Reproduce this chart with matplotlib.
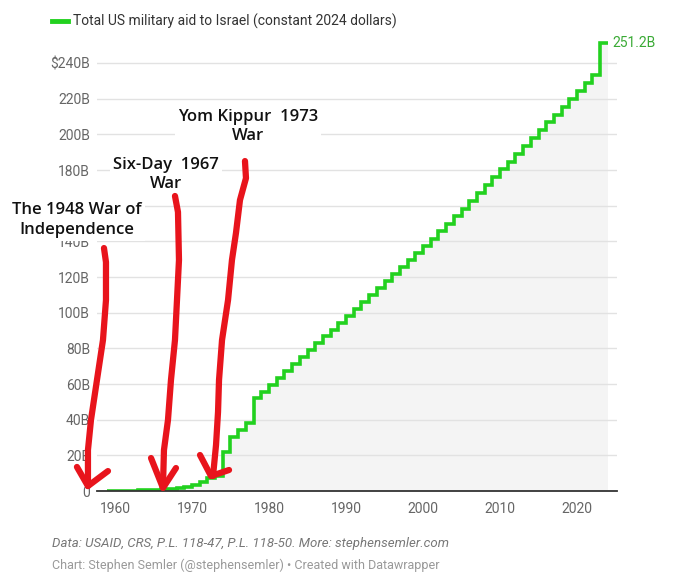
import matplotlib.pyplot as plt
from matplotlib.lines import Line2D

# cumulative aid, billions of constant 2024 dollars; value for year y covers y..y+1
years = list(range(1959, 2024))
aid_billion = [
    0.0, 0.05, 0.1, 0.2, 0.3, 0.4, 0.6, 0.9, 1.2, 1.6,       # 1959-1968
    2.1, 3.4, 5.2, 7.2, 8.5, 22.0, 30.5, 34.3, 38.0, 52.1,   # 1969-1978
    55.8, 59.6, 63.4, 67.6, 71.5, 75.4, 79.2, 83.0, 86.8, 90.6,  # 1979-1988
    94.5, 98.4, 102.3, 106.2, 110.1, 114.0, 117.9, 121.8, 125.7, 129.6,  # 1989-1998
    133.5, 137.4, 141.4, 145.6, 149.8, 154.0, 158.4, 162.8, 167.2, 171.6,  # 1999-2008
    176.0, 180.4, 184.8, 189.2, 193.6, 198.0, 202.4, 206.8, 211.2, 215.6,  # 2009-2018
    220.0, 224.5, 229.0, 233.5, 251.2,                        # 2019-2023
]

year_ticks = [1960, 1970, 1980, 1990, 2000, 2010, 2020]
value_ticks = [0, 20, 40, 60, 80, 100, 120, 140, 160, 180, 200, 220, 240]
value_tick_labels = ["0", "20B", "40B", "60B", "80B", "100B", "120B", "140B",
                     "160B", "180B", "200B", "220B", "$240B"]

legend_label = "Total US military aid to Israel (constant 2024 dollars)"
end_label = "251.2B"

war_notes = [
    ("The 1948 War of\nIndependence", 1955.06, 152.0),
    ("Six-Day  1967\nWar", 1966.62, 177.5),
    ("Yom Kippur  1973\nWar", 1977.27, 204.4),
]

# hand drawn red arrows (year, billions): shaft, then the two strokes of the head
arrows = [
    ([1958.57, 1958.83, 1958.83, 1958.44, 1957.66, 1956.88, 1956.49, 1956.49],
     [136.3, 128.4, 107.1, 84.7, 62.3, 39.8, 23.0, 2.8],
     [1955.06, 1956.49, 1959.09], [13.5, 2.8, 11.2]),
    ([1967.79, 1968.18, 1968.31, 1968.05, 1967.79, 1967.27, 1966.88, 1966.36, 1966.23],
     [165.5, 156.5, 129.6, 107.1, 84.7, 62.3, 39.8, 23.0, 2.2],
     [1964.68, 1966.23, 1967.92], [18.5, 1.7, 12.9]),
    ([1976.88, 1977.01, 1976.23, 1975.71, 1975.19, 1974.68, 1973.9, 1973.51, 1973.38, 1973.12, 1972.73],
     [185.1, 175.5, 163.2, 144.7, 129.6, 107.1, 84.7, 62.3, 44.3, 25.8, 8.4],
     [1971.04, 1972.47, 1974.81], [20.2, 8.4, 11.8]),
]

green = "#22d11f"
red = "#e8141c"

plt.rcParams["font.family"] = ["Roboto", "DejaVu Sans"]

fig = plt.figure(figsize=(6.8, 5.8), dpi=100)
ax = fig.add_axes([0.1426, 0.1534, 0.7643, 0.8053])
ax.set_xlim(1957.66, 2025.15)
ax.set_ylim(0, 262)

edges = years + [years[-1] + 1]
ax.stairs(aid_billion, edges, fill=True, baseline=0, color="#f4f4f4",
          linewidth=0, zorder=0.3)
ax.stairs(aid_billion, edges, baseline=None, edgecolor=green, linewidth=2.6,
          joinstyle="miter", zorder=2)
ax.annotate(end_label, (edges[-1], aid_billion[-1]), xytext=(3.5, 0),
            textcoords="offset points", va="center", ha="left",
            color="#3aaa35", fontsize=10, annotation_clip=False)

ax.set_axisbelow(True)
ax.yaxis.grid(True, color="#e2e2e2", linewidth=1)
ax.set_yticks(value_ticks, value_tick_labels)
ax.set_xticks(year_ticks, [str(y) for y in year_ticks])
ax.tick_params(axis="both", length=0, colors="#666666", labelsize=10)
ax.tick_params(axis="y", pad=5)
ax.tick_params(axis="x", pad=8)
for side in ["left", "right", "top"]:
    ax.spines[side].set_visible(False)
ax.spines["bottom"].set_color("#333333")
ax.spines["bottom"].set_linewidth(1.3)

for text, x, y in war_notes:
    ax.text(x, y, text, ha="center", va="center", multialignment="center",
            fontsize=12, family=["Open Sans", "DejaVu Sans"], fontweight="semibold",
            color="#111111", linespacing=1.3, zorder=3, clip_on=False,
            bbox=dict(facecolor="white", edgecolor="none", pad=2))

for sx, sy, hx, hy in arrows:
    for xs, ys in [(sx, sy), (hx, hy)]:
        ax.plot(xs, ys, color=red, linewidth=4.5, solid_capstyle="round",
                solid_joinstyle="round", clip_on=False, zorder=4)

# legend row at the top
fig.add_artist(Line2D([52 / 680, 68 / 680], [1 - 21 / 580] * 2, color=green,
                      linewidth=3.5))
fig.text(73 / 680, 1 - 21 / 580, legend_label, va="center", ha="left",
         fontsize=10, color="#333333")

fig.text(52 / 680, 1 - 544 / 580,
         "Data: USAID, CRS, P.L. 118-47, P.L. 118-50. More: stephensemler.com",
         va="center", ha="left", fontsize=9.5, style="italic", color="#777777")
fig.text(52 / 680, 1 - 565 / 580,
         "Chart: Stephen Semler (@stephensemler) \u2022 Created with Datawrapper",
         va="center", ha="left", fontsize=9, color="#999999")

fig.savefig("out.png", dpi=100)
